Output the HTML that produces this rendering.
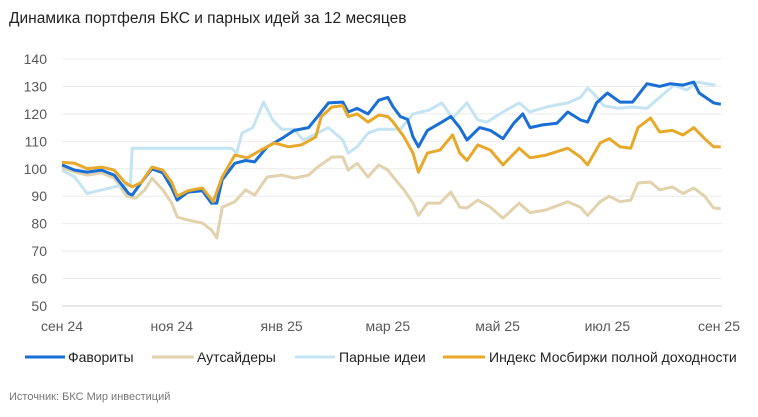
<!DOCTYPE html>
<html><head><meta charset="utf-8">
<style>
body{margin:0;background:#fff;font-family:"Liberation Sans","Noto Sans CJK SC",sans-serif;}
svg text{font-family:"Liberation Sans","Noto Sans CJK SC",sans-serif;}
</style></head>
<body>
<svg id="chart" width="758" height="412">
<text x="9" y="23" font-size="15.5" fill="#222">Динамика портфеля БКС и парных идей за 12 месяцев</text>
<g id="grid"></g><g id="lines"></g>
<g id="legend">
<line x1="25" y1="357" x2="65" y2="357" stroke="#1a6fd6" stroke-width="3"/>
<text x="68" y="362" font-size="14" fill="#222">Фавориты</text>
<line x1="152" y1="357" x2="194" y2="357" stroke="#e2d2ad" stroke-width="3"/>
<text x="197" y="362" font-size="14" fill="#222">Аутсайдеры</text>
<line x1="295" y1="357" x2="335" y2="357" stroke="#c4e4f3" stroke-width="3"/>
<text x="339" y="362" font-size="14" fill="#222">Парные идеи</text>
<line x1="443" y1="357" x2="485" y2="357" stroke="#e8a92a" stroke-width="3"/>
<text x="489" y="362" font-size="14" fill="#222">Индекс Мосбиржи полной доходности</text>
</g>
<text x="9" y="400" font-size="11" fill="#777">Источник: БКС Мир инвестиций</text>
</svg>
<script>
const yTicks=[50,60,70,80,90,100,110,120,130,140];
const xTickLabels=["сен 24","ноя 24","янв 25","мар 25","май 25","июл 25","сен 25"];
const xTickDays=[0,61,122,181,242,303,365];
const favDays=[0,7,14,22,29,37,39,44,50,56,61,64,70,78,83,86,89,96,102,107,114,122,129,137,142,148,156,159,164,170,176,181,184,188,192,195,198,203,210,216,221,225,232,238,245,251,256,260,267,275,281,288,292,297,303,310,317,325,332,338,345,351,354,362,366];
const favVals=[101.4,99.5,98.8,99.5,97.7,91,90.4,95,100,98.5,93,88.6,91.5,92,87.5,87.5,96,102,103,102.5,108,111,114,115,119,124,124.3,120.7,122,120,125,126,122.5,119,118,111.6,108,114,116.6,119,115,110.5,115,114,111,116.6,120,115,116,116.6,120.7,117.8,117,124,127.6,124.3,124.3,131,130,131,130.5,131.6,127.6,124,123.5];
const outDays=[0,7,14,22,29,36,41,46,50,56,61,64,70,78,83,86,89,96,102,107,114,122,129,137,142,150,156,159,164,170,176,181,184,190,195,198,203,210,216,221,225,231,238,245,254,260,269,281,288,292,299,304,310,316,320,327,332,339,345,351,357,362,366];
const outVals=[100.6,98.8,97.7,98.5,96.6,90,89.3,92.3,96.6,92.3,87.5,82.4,81.3,80.2,77.7,74.8,86,88,92.3,90.4,97,97.7,96.6,97.7,100.6,104.3,104.3,99.5,102,97,101.4,99.5,97,92.3,87.5,83,87.5,87.5,91.5,86,85.7,88.6,86,82,87.5,84,85,88,86,83,88,90,88,88.6,94.8,95.2,92.3,93.4,91,93,90,85.7,85.5];
const pairDays=[0,7,14,22,29,35,38,39,94,97,100,106,112,117,122,129,134,142,148,156,159,164,170,176,188,195,204,211,217,225,231,236,245,254,260,269,281,288,292,295,301,309,317,325,332,340,347,353,358,363];
const pairVals=[99.5,97,91,92.3,93.4,94,94,107.5,107.5,105.7,113,115,124.3,117.8,114.4,114.4,110.5,113,115,110.5,105.7,108,113,114.4,114.4,120,121.4,124,118.5,124,117.8,117,120.7,124,120.7,122.5,124,126,129.4,127.6,123,122,122.5,122,126,130.5,128.7,131.6,131,130.5];
const moexDays=[0,7,14,22,29,35,39,44,50,56,61,64,70,78,84,89,96,103,111,118,126,133,141,144,150,156,159,164,170,176,181,184,190,195,198,203,210,217,221,225,231,238,245,254,260,269,281,288,292,299,304,310,316,320,327,332,339,345,351,357,362,366];
const moexVals=[102.4,102,100,100.6,99.5,95,93.4,95,100.6,99.5,95,90,92,93,88,97,105,104,107,109.4,108,108.7,111.6,119,122.5,123,119,120,117,119.6,119,117,111.6,105.7,98.8,105.7,106.8,112.3,105.7,103,108.7,106.8,101.4,107.5,104,105,107.5,104.3,101.4,109.4,111,108,107.5,115,118.5,113.4,114,112.3,115,111,108,108];

const NS="http://www.w3.org/2000/svg";
const x0=62,x1=719,dMax=365,yTop=59,yBot=306,vMin=50,vMax=140;
function xs(d){return x0+d/dMax*(x1-x0);}
function ys(v){return yBot-(v-vMin)/(vMax-vMin)*(yBot-yTop);}
const grid=document.getElementById('grid');
yTicks.forEach(t=>{
 const l=document.createElementNS(NS,'line');
 l.setAttribute('x1',x0);l.setAttribute('x2',x1+3);l.setAttribute('y1',ys(t));l.setAttribute('y2',ys(t));
 l.setAttribute('stroke',t===50?'#d0d0d0':'#ececec');l.setAttribute('stroke-width','1');
 
 
 grid.appendChild(l);
 const tx=document.createElementNS(NS,'text');
 tx.setAttribute('x',47);tx.setAttribute('y',ys(t)+5);tx.setAttribute('text-anchor','end');
 tx.setAttribute('font-size','14');tx.setAttribute('fill','#595959');tx.textContent=t;
 
 
 grid.appendChild(tx);
});
xTickLabels.forEach((s,i)=>{
 const tx=document.createElementNS(NS,'text');
 tx.setAttribute('x',xs(xTickDays[i]));tx.setAttribute('y',331);tx.setAttribute('text-anchor','middle');
 tx.setAttribute('font-size','14');tx.setAttribute('fill','#595959');tx.textContent=s;
 
 
 grid.appendChild(tx);
});
const lines=document.getElementById('lines');
function draw(days,vals,color,name){
 const p=document.createElementNS(NS,'polyline');
 p.setAttribute('points',days.map((d,i)=>xs(d).toFixed(1)+','+ys(vals[i]).toFixed(1)).join(' '));
 p.setAttribute('fill','none');p.setAttribute('stroke',color);p.setAttribute('stroke-width','3');
 p.setAttribute('stroke-linejoin','round');
 
 
 lines.appendChild(p);
}
draw(outDays,outVals,'#e2d2ad','line-outsiders');
draw(pairDays,pairVals,'#c4e4f3','line-pair-ideas');
draw(favDays,favVals,'#1a6fd6','line-favorites');
draw(moexDays,moexVals,'#e8a92a','line-moex');
</script>
</body></html>
